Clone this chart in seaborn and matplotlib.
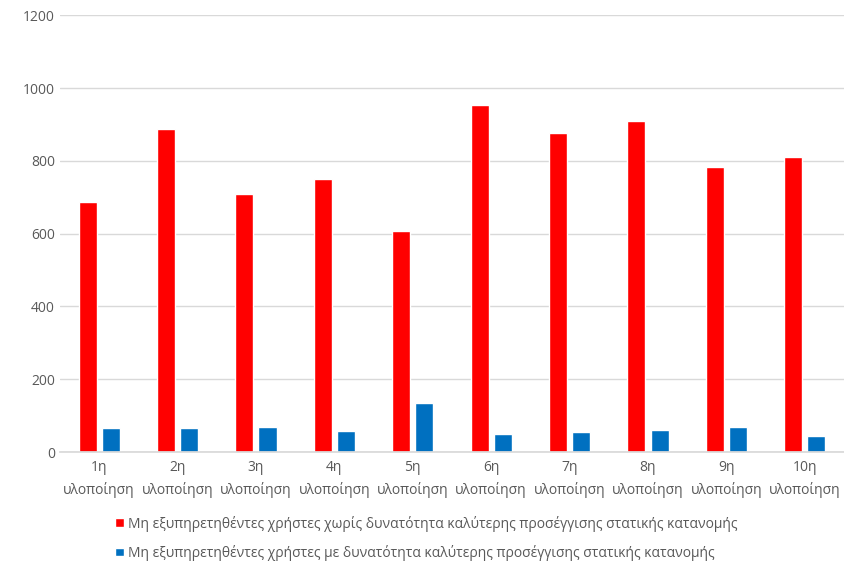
import matplotlib
matplotlib.use("Agg")
import matplotlib.pyplot as plt
import seaborn as sns
import pandas as pd

categories = [f"{i}η\nυλοποίηση" for i in range(1, 11)]
series_names = [
    "Μη εξυπηρετηθέντες χρήστες χωρίς δυνατότητα καλύτερης προσέγγισης στατικής κατανομής",
    "Μη εξυπηρετηθέντες χρήστες με δυνατότητα καλύτερης προσέγγισης στατικής κατανομής",
]
without_values = [686, 887, 708, 749, 606, 953, 876, 909, 782, 810]
with_values = [65, 65, 70, 57, 134, 51, 54, 62, 68, 43]
colors = ["#FF0000", "#0070C0"]

df = pd.DataFrame({
    "cat": categories * 2,
    "series": [series_names[0]] * 10 + [series_names[1]] * 10,
    "value": without_values + with_values,
})

sns.set_theme(style="white")
plt.rcParams["font.family"] = ["Open Sans", "DejaVu Sans"]

fig = plt.figure(figsize=(8.44, 5.63), dpi=100)
ax = fig.add_axes([0.071, 0.197, 0.929, 0.776])
sns.barplot(data=df, x="cat", y="value", hue="series", palette=colors,
            width=0.59, gap=0.22, ax=ax, legend=True, saturation=1)

ax.set_ylim(0, 1200)
ax.set_yticks(range(0, 1201, 200))
ax.yaxis.grid(True, color="#D9D9D9", linewidth=1)
ax.set_axisbelow(True)
for s in ["top", "right", "left"]:
    ax.spines[s].set_visible(False)
ax.spines["bottom"].set_color("#D9D9D9")
ax.set_xlabel("")
ax.set_ylabel("")
ax.tick_params(axis="both", length=0, colors="#595959", labelsize=10)
ax.tick_params(axis="x", pad=6)
for lbl in ax.get_xticklabels():
    lbl.set_linespacing(1.55)

handles, labels = ax.get_legend_handles_labels()
ax.get_legend().remove()
fig.legend(handles, labels, loc="upper left", bbox_to_anchor=(0.13, 0.094),
           frameon=False, fontsize=10, labelcolor="#595959", handlelength=0.6,
           handleheight=0.6, handletextpad=0.3, labelspacing=0.95, borderaxespad=0)

fig.savefig("out.png", dpi=100)
